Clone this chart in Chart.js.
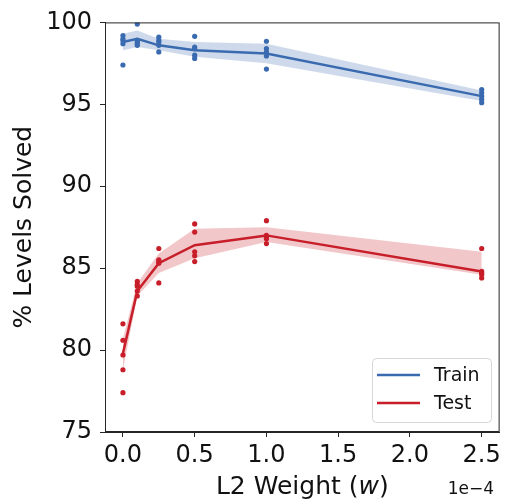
<!DOCTYPE html>
<html>
<head>
<meta charset="utf-8">
<script src="https://cdn.jsdelivr.net/npm/chart.js@4.4.0/dist/chart.umd.min.js"></script>
<style>
  html, body { margin: 0; padding: 0; background: #fff; }
  #wrap { width: 505px; height: 499px; }
</style>
</head>
<body>
<div id="wrap"><canvas id="chart" width="505" height="499"></canvas></div>
<script>
// L2 weight values (x 1e-4)
const weights = [0, 0.1, 0.25, 0.5, 1.0, 2.5];
const xTicks = [0, 0.5, 1.0, 1.5, 2.0, 2.5];
const yTicks = [75, 80, 85, 90, 95, 100];

// mean lines and shaded band edges
const trainMean = [98.8, 99.0, 98.6, 98.3, 98.1, 95.5];
const trainUpper = [99.3, 99.5, 99.0, 98.8, 98.7, 95.85];
const trainLower = [98.3, 98.5, 98.3, 97.9, 97.5, 95.2];

const testMean = [79.8, 83.6, 85.3, 86.4, 87.0, 84.8];
const testUpper = [80.7, 84.1, 85.9, 87.4, 87.5, 86.0];
const testLower = [78.8, 83.3, 84.7, 85.6, 86.6, 84.6];

// individual runs (5 seeds per weight)
const trainRuns = [
  [99.2, 99.0, 98.9, 98.7, 97.4],
  [99.9, 98.9, 98.8, 98.7, 98.6],
  [99.1, 98.9, 98.8, 98.6, 98.2],
  [99.15, 98.5, 98.4, 98.0, 97.8],
  [98.85, 98.4, 98.2, 97.95, 97.15],
  [95.9, 95.7, 95.5, 95.3, 95.1]
];
const testRuns = [
  [81.6, 80.6, 79.7, 78.8, 77.4],
  [84.2, 84.0, 83.9, 83.6, 83.3],
  [86.2, 85.5, 85.4, 85.3, 84.1],
  [87.7, 87.2, 86.0, 85.75, 85.4],
  [87.9, 87.0, 86.9, 86.8, 86.5],
  [86.2, 84.8, 84.7, 84.6, 84.4]
];

const blue = '#3a6bb0';
const red = '#c81e2a';
const FONT = 'DejaVu Sans';

function pts(ys) {
  return weights.map((w, i) => ({ x: w, y: ys[i] }));
}
function runPts(runs) {
  let out = [];
  runs.forEach((r, i) => r.forEach(v => out.push({ x: weights[i], y: v })));
  return out;
}

// draws the frame, x title, offset text and legend
const extras = {
  id: 'extras',
  afterDraw(chart) {
    const ctx = chart.ctx;
    const a = chart.chartArea;
    ctx.save();
    ctx.strokeStyle = '#262626';
    ctx.lineWidth = 1;
    ctx.strokeRect(a.left + 0.5, a.top + 0.5, a.right - a.left - 1, a.bottom - a.top - 1);

    // x axis title with italic w
    ctx.fillStyle = '#111';
    ctx.textBaseline = 'alphabetic';
    const p1 = 'L2 Weight (', p2 = 'w', p3 = ')';
    ctx.font = '25px "' + FONT + '"';
    const w1 = ctx.measureText(p1).width, w3 = ctx.measureText(p3).width;
    ctx.font = 'italic 25px "' + FONT + '"';
    const w2 = ctx.measureText(p2).width;
    let x = (a.left + a.right) / 2 - (w1 + w2 + w3) / 2;
    const by = 494;
    ctx.font = '25px "' + FONT + '"';
    ctx.fillText(p1, x, by);
    ctx.font = 'italic 25px "' + FONT + '"';
    ctx.fillText(p2, x + w1, by);
    ctx.font = '25px "' + FONT + '"';
    ctx.fillText(p3, x + w1 + w2, by);

    // offset text
    ctx.font = '17px "' + FONT + '"';
    ctx.textAlign = 'right';
    ctx.fillText('1e\u22124', 494, 494);

    // legend
    const lx = 372, ly = 358, lw = 119, lh = 64;
    ctx.beginPath();
    ctx.roundRect(lx + 0.5, ly + 0.5, lw, lh, 4);
    ctx.fillStyle = 'rgba(255,255,255,0.85)';
    ctx.fill();
    ctx.strokeStyle = '#d6d6d6';
    ctx.stroke();
    const items = [['Train', blue, 375], ['Test', red, 403]];
    ctx.textAlign = 'left';
    ctx.textBaseline = 'middle';
    ctx.font = '19px "' + FONT + '"';
    items.forEach(it => {
      ctx.strokeStyle = it[1];
      ctx.lineWidth = 2.5;
      ctx.beginPath();
      ctx.moveTo(377, it[2]);
      ctx.lineTo(420, it[2]);
      ctx.stroke();
      ctx.fillStyle = '#111';
      ctx.fillText(it[0], 434, it[2] + 1);
    });
    ctx.restore();
  }
};

new Chart(document.getElementById('chart'), {
  type: 'line',
  data: {
    datasets: [
      { data: pts(trainUpper), borderWidth: 0, pointRadius: 0, fill: '+1', backgroundColor: 'rgba(58,107,176,0.25)', tension: 0 },
      { data: pts(trainLower), borderWidth: 0, pointRadius: 0, fill: false, tension: 0 },
      { data: pts(testUpper), borderWidth: 0, pointRadius: 0, fill: '+1', backgroundColor: 'rgba(200,30,42,0.25)', tension: 0 },
      { data: pts(testLower), borderWidth: 0, pointRadius: 0, fill: false, tension: 0 },
      { label: 'Train', data: pts(trainMean), borderColor: blue, borderWidth: 2.5, pointRadius: 0, fill: false, tension: 0 },
      { label: 'Test', data: pts(testMean), borderColor: red, borderWidth: 2.5, pointRadius: 0, fill: false, tension: 0 },
      { data: runPts(trainRuns), showLine: false, pointRadius: 2.6, pointBorderWidth: 0, pointBackgroundColor: blue },
      { data: runPts(testRuns), showLine: false, pointRadius: 2.6, pointBorderWidth: 0, pointBackgroundColor: red }
    ]
  },
  options: {
    responsive: false,
    animation: false,
    layout: { padding: { top: 16, right: 5, left: 9, bottom: 0 } },
    plugins: { legend: { display: false }, tooltip: { enabled: false } },
    scales: {
      x: {
        type: 'linear',
        min: -0.125,
        max: 2.625,
        afterBuildTicks: s => { s.ticks = xTicks.map(v => ({ value: v })); },
        afterFit: s => { s.height = 67; },
        grid: { drawOnChartArea: false, drawTicks: true, tickLength: 5, tickColor: '#262626' },
        border: { display: true, color: '#262626' },
        ticks: { font: { family: FONT, size: 24 }, color: '#111', padding: 4, maxRotation: 0, callback: v => v.toFixed(1) }
      },
      y: {
        min: 75,
        max: 100,
        afterBuildTicks: s => { s.ticks = yTicks.map(v => ({ value: v })); },
        afterFit: s => { s.width = 96; },
        grid: { drawOnChartArea: false, drawTicks: true, tickLength: 5, tickColor: '#262626' },
        border: { display: true, color: '#262626' },
        title: { display: true, text: '% Levels Solved', font: { family: FONT, size: 25 }, color: '#111', padding: { top: 0, bottom: 6 } },
        ticks: { font: { family: FONT, size: 24 }, color: '#111', padding: 8 }
      }
    }
  },
  plugins: [extras]
});
</script>
</body>
</html>
